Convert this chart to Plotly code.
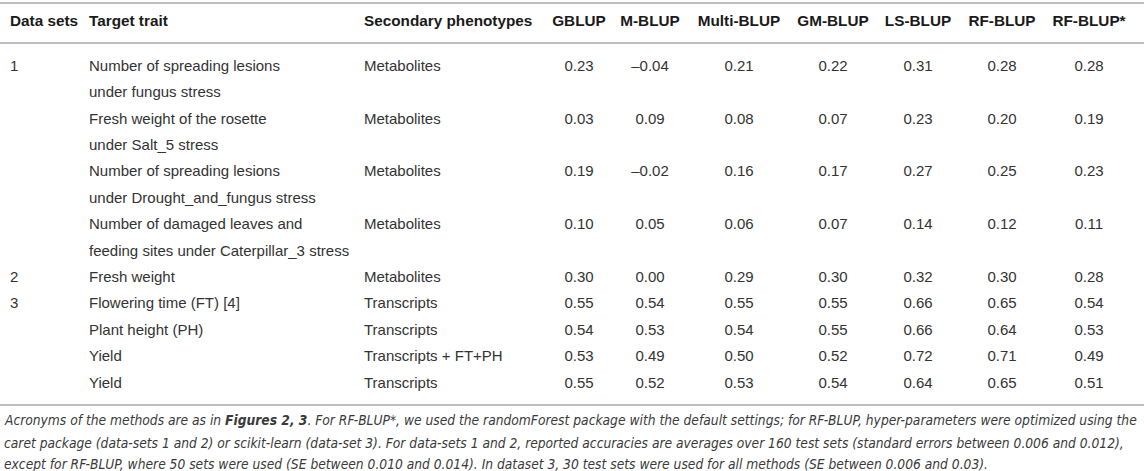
import plotly.graph_objects as go

W, H = 1144, 471

# table content
data_sets = ["1", "", "", "", "2", "3", "", "", ""]
target_trait = [
    ["Number of spreading lesions", "under fungus stress"],
    ["Fresh weight of the rosette", "under Salt_5 stress"],
    ["Number of spreading lesions", "under Drought_and_fungus stress"],
    ["Number of damaged leaves and", "feeding sites under Caterpillar_3 stress"],
    ["Fresh weight"],
    ["Flowering time (FT) [4]"],
    ["Plant height (PH)"],
    ["Yield"],
    ["Yield"],
]
secondary = ["Metabolites", "Metabolites", "Metabolites", "Metabolites", "Metabolites",
             "Transcripts", "Transcripts", "Transcripts + FT+PH", "Transcripts"]
left_headers = ["Data sets", "Target trait", "Secondary phenotypes"]
methods = ["GBLUP", "M-BLUP", "Multi-BLUP", "GM-BLUP", "LS-BLUP", "RF-BLUP", "RF-BLUP*"]
gblup = [0.23, 0.03, 0.19, 0.10, 0.30, 0.55, 0.54, 0.53, 0.55]
m_blup = [-0.04, 0.09, -0.02, 0.05, 0.00, 0.54, 0.53, 0.49, 0.52]
multi_blup = [0.21, 0.08, 0.16, 0.06, 0.29, 0.55, 0.54, 0.50, 0.53]
gm_blup = [0.22, 0.07, 0.17, 0.07, 0.30, 0.55, 0.55, 0.52, 0.54]
ls_blup = [0.31, 0.23, 0.27, 0.14, 0.32, 0.66, 0.66, 0.72, 0.64]
rf_blup = [0.28, 0.20, 0.25, 0.12, 0.30, 0.65, 0.64, 0.71, 0.65]
rf_blup_star = [0.28, 0.19, 0.23, 0.11, 0.28, 0.54, 0.53, 0.49, 0.51]
caption = [
    "Acronyms of the methods are as in <b>Figures 2, 3</b>. For RF-BLUP*, we used the randomForest package "
    "with the default settings; for RF-BLUP, hyper-parameters were optimized using the",
    "caret package (data-sets 1 and 2) or scikit-learn (data-set 3). For data-sets 1 and 2, reported accuracies "
    "are averages over 160 test sets (standard errors between 0.006 and 0.012),",
    "except for RF-BLUP, where 50 sets were used (SE between 0.010 and 0.014). In dataset 3, 30 test sets were "
    "used for all methods (SE between 0.006 and 0.03).",
]
values = [gblup, m_blup, multi_blup, gm_blup, ls_blup, rf_blup, rf_blup_star]

# layout in pixels
left_x = [10, 89, 364]
method_x = [579, 650, 739, 833, 918, 1002, 1089]
header_y = 22
first_y = 67
line_h = 26.4
rule_y = [3, 43, 405]
caption_y = [420, 443, 464]
body_font = dict(family="Liberation Sans, Arial, sans-serif", size=15, color="#333333")
head_font = dict(family="Liberation Sans, Arial, sans-serif", size=15.3, color="#1a1a1a")

# y of the first line of each row
row_y = []
line = 0
for lines in target_trait:
    row_y.append(first_y + line * line_h)
    line += len(lines)


def fmt(v):
    return f"{v:.2f}".replace("-", "\u2013")


fig = go.Figure()

# header
fig.add_trace(go.Scatter(
    x=left_x + method_x, y=[header_y] * (len(left_x) + len(methods)),
    text=["<b>%s</b>" % t for t in left_headers + methods],
    textposition=["middle right"] * len(left_x) + ["middle center"] * len(methods),
    mode="text", textfont=head_font, hoverinfo="skip"))

# left text columns
xs, ys, ts = [], [], []
for i, y in enumerate(row_y):
    if data_sets[i]:
        xs.append(left_x[0]); ys.append(y); ts.append(data_sets[i])
    for k, txt in enumerate(target_trait[i]):
        xs.append(left_x[1]); ys.append(y + k * line_h); ts.append(txt)
    xs.append(left_x[2]); ys.append(y); ts.append(secondary[i])
fig.add_trace(go.Scatter(x=xs, y=ys, text=ts, mode="text", textposition="middle right",
                         textfont=body_font, hoverinfo="skip"))

# numeric columns
for name, cx, vals in zip(methods, method_x, values):
    fig.add_trace(go.Scatter(x=[cx] * len(vals), y=row_y, text=[fmt(v) for v in vals],
                             mode="text", textposition="middle center", textfont=body_font,
                             name=name, hoverinfo="skip"))

# horizontal rules
for y in rule_y:
    fig.add_shape(type="line", x0=0, x1=W, y0=y, y1=y, xref="x", yref="y",
                  line=dict(color="#bdbdbd", width=2))

# caption
for y, txt in zip(caption_y, caption):
    fig.add_annotation(x=2, y=y, xref="x", yref="y", text="<i>%s</i>" % txt, showarrow=False,
                       xanchor="left", yanchor="middle",
                       font=dict(family="DejaVu Sans Condensed, sans-serif",
                                 size=13.7, color="#3a3a3a"))

fig.update_layout(width=W, height=H, margin=dict(l=0, r=0, t=0, b=0), showlegend=False,
                  plot_bgcolor="white", paper_bgcolor="white")
fig.update_xaxes(range=[0, W], visible=False, fixedrange=True)
fig.update_yaxes(range=[H, 0], visible=False, fixedrange=True)

fig.write_html("out.html", config={"displayModeBar": False},
               post_script="document.body.style.margin='0';")
